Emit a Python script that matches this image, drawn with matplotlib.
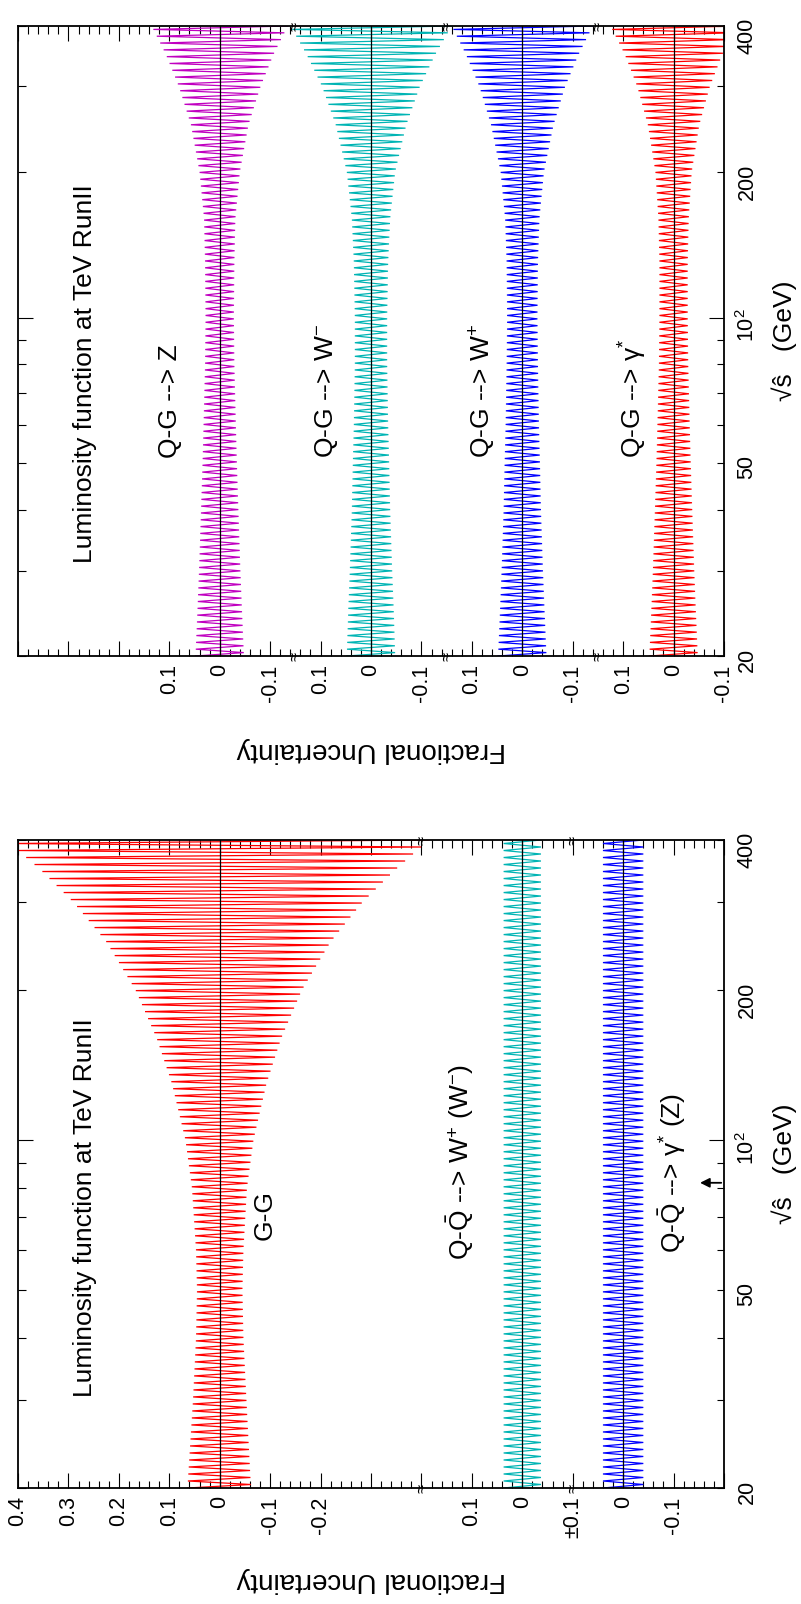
import numpy as np
import matplotlib
matplotlib.use('Agg')
import matplotlib.pyplot as plt
from matplotlib.ticker import FixedLocator, FixedFormatter, FuncFormatter

plt.rcParams['font.family'] = ['Liberation Sans', 'DejaVu Sans']
plt.rcParams['mathtext.fontset'] = 'custom'
plt.rcParams['mathtext.rm'] = 'Liberation Sans'
plt.rcParams['mathtext.it'] = 'Liberation Sans:italic'

e_read = [20, 25, 30, 40, 50, 60, 80, 100, 130, 160, 200, 250, 300, 350, 400]

# left plot (drawn at the bottom of the page): G-G, Q-Qbar channels
gg_up = [0.064, 0.058, 0.053, 0.047, 0.045, 0.047, 0.055, 0.068, 0.095, 0.125, 0.167, 0.225, 0.29, 0.357, 0.425]
gg_dn = [0.062, 0.057, 0.053, 0.047, 0.045, 0.047, 0.054, 0.067, 0.093, 0.122, 0.163, 0.22, 0.283, 0.35, 0.415]
qq_w = [0.037, 0.037, 0.037, 0.037, 0.037, 0.037, 0.037, 0.037, 0.037, 0.037, 0.037, 0.037, 0.037, 0.037, 0.037]
qq_g = [0.04, 0.04, 0.04, 0.04, 0.04, 0.04, 0.04, 0.04, 0.04, 0.04, 0.04, 0.04, 0.04, 0.04, 0.04]

# right plot (drawn at the top of the page): Q-G channels
qg_z = [0.048, 0.044, 0.041, 0.037, 0.034, 0.032, 0.029, 0.028, 0.029, 0.031, 0.040, 0.057, 0.081, 0.107, 0.135]
qg_wm = [0.048, 0.045, 0.042, 0.038, 0.036, 0.034, 0.032, 0.032, 0.034, 0.038, 0.048, 0.07, 0.097, 0.128, 0.16]
qg_wp = [0.048, 0.044, 0.041, 0.037, 0.035, 0.033, 0.031, 0.03, 0.031, 0.034, 0.043, 0.062, 0.085, 0.112, 0.14]
qg_g = [0.048, 0.044, 0.041, 0.037, 0.034, 0.032, 0.029, 0.028, 0.028, 0.03, 0.036, 0.051, 0.072, 0.097, 0.125]

arrow_e = 82  # arrow on the energy axis of the left plot

e_major = [100]
e_minor = [20, 30, 40, 50, 60, 70, 80, 90, 200, 300, 400]
e_minor_lab = {20: '20', 50: '50', 200: '200', 400: '400'}

# tick labels of the stacked bands (key = position on the shared axis)
top_lab = {1.0: '0.1', 0.9: '0', 0.8: '-0.1', 0.7: '0.1', 0.6: '0', 0.5: '-0.1',
           0.4: '0.1', 0.3: '0', 0.2: '-0.1', 0.1: '0.1', 0.0: '0', -0.1: '-0.1'}
bot_lab = {1.2: '0.4', 1.1: '0.3', 1.0: '0.2', 0.9: '0.1', 0.8: '0', 0.7: '-0.1', 0.6: '-0.2',
           0.3: '0.1', 0.2: '0', 0.1: '\u00b10.1', 0.0: '0', -0.1: '-0.1'}

n_pts = 186
e_grid = np.geomspace(20, 400, n_pts)

W, H = 801, 1604
fig = plt.figure(figsize=(W / 100, H / 100), dpi=100)


def px(x, y):
    return x / W, 1 - y / H


def band(ax, off, up, dn, col):
    lg = np.log(e_grid)
    u = np.interp(lg, np.log(e_read), up)
    d = np.interp(lg, np.log(e_read), dn)
    xs = np.where(np.arange(n_pts) % 2 == 0, off + u, off - d)
    ax.plot(xs, e_grid, color=col, lw=0.9, solid_joinstyle='miter')
    ax.axvline(off, color='k', lw=0.9)


def setup(ax, lo, hi, labs, breaks):
    ax.set_yscale('log')
    ax.set_ylim(20, 400)
    ax.set_xlim(hi, lo)
    maj = [round(v, 2) for v in np.arange(lo, hi + 0.001, 0.1)]
    ax.xaxis.set_major_locator(FixedLocator(maj))
    ax.xaxis.set_major_formatter(FixedFormatter([labs.get(round(v, 1), '') for v in maj]))
    ax.xaxis.set_minor_locator(FixedLocator(np.arange(lo, hi + 0.001, 0.02)))
    ax.yaxis.set_major_locator(FixedLocator(e_major))
    ax.yaxis.set_major_formatter(FixedFormatter(['10$^{2}$']))
    ax.yaxis.set_minor_locator(FixedLocator(e_minor))
    ax.yaxis.set_minor_formatter(FuncFormatter(lambda v, p: e_minor_lab.get(int(round(v)), '')))
    ax.tick_params(which='both', direction='in', top=True, bottom=True, left=True, right=True,
                   labelleft=False, labelright=True, width=0.8, labelsize=15.5)
    ax.tick_params(which='major', length=10.5)
    ax.tick_params(which='minor', length=5.4)
    ax.tick_params(axis='x', which='both', labelrotation=90, pad=6)
    ax.tick_params(axis='y', which='both', labelrotation=90, pad=9)
    for s in ax.spines.values():
        s.set_linewidth(1.3)
    tr = ax.get_xaxis_transform()
    for b in breaks:
        for yy in (0, 1):
            ax.text(b, yy, '\u2248', transform=tr, rotation=90, ha='center', va='center',
                    fontsize=12, clip_on=False)


# ---- top of page: Q-G plot
ax1 = fig.add_axes([18 / W, 1 - 656 / H, 706 / W, 630 / H])
setup(ax1, -0.1, 1.3, top_lab, [0.15, 0.45, 0.75])
band(ax1, 0.9, qg_z, qg_z, '#c000c0')
band(ax1, 0.6, qg_wm, qg_wm, '#00b4b4')
band(ax1, 0.3, qg_wp, qg_wp, '#0000ff')
band(ax1, 0.0, qg_g, qg_g, '#ff0000')

# ---- bottom of page: G-G / Q-Qbar plot
ax2 = fig.add_axes([18 / W, 1 - 1488 / H, 706 / W, 648 / H])
setup(ax2, -0.2, 1.2, bot_lab, [0.1, 0.4])
band(ax2, 0.8, gg_up, gg_dn, '#ff0000')
band(ax2, 0.2, qq_w, qq_w, '#00b4b4')
band(ax2, 0.0, qq_g, qq_g, '#0000ff')
ax2.annotate('', xy=(-0.147, arrow_e), xytext=(-0.2, arrow_e),
             arrowprops=dict(arrowstyle='-|>', color='k', lw=1.3, mutation_scale=14))

# texts (all rotated like the page)
fs = 19
fig.text(*px(85, 563), 'Luminosity function at TeV RunII', rotation=90, ha='center', va='bottom', fontsize=fs)
fig.text(*px(170, 458), 'Q-G --> Z', rotation=90, ha='center', va='bottom', fontsize=fs)
fig.text(*px(327, 458), 'Q-G --> W$^{-}$', rotation=90, ha='center', va='bottom', fontsize=fs)
fig.text(*px(483, 458), 'Q-G --> W$^{+}$', rotation=90, ha='center', va='bottom', fontsize=fs)
fig.text(*px(633, 458), 'Q-G --> \u03b3$^{*}$', rotation=90, ha='center', va='bottom', fontsize=fs)
fig.text(*px(784, 341), '\u221a\u015d   (GeV)', rotation=90, ha='center', va='center', fontsize=fs)
fig.text(*px(371, 750), 'Fractional Uncertainty', rotation=180, ha='center', va='center', fontsize=20)

fig.text(*px(85, 1397), 'Luminosity function at TeV RunII', rotation=90, ha='center', va='bottom', fontsize=fs)
fig.text(*px(265, 1215), 'G-G', rotation=90, ha='center', va='center', fontsize=fs)
fig.text(*px(460, 1260), 'Q-$\\bar{\\mathrm{Q}}$ --> W$^{+}$ (W$^{-}$)', rotation=90, ha='center', va='bottom', fontsize=fs)
fig.text(*px(672, 1253), 'Q-$\\bar{\\mathrm{Q}}$ --> \u03b3$^{*}$ (Z)', rotation=90, ha='center', va='bottom', fontsize=fs)
fig.text(*px(784, 1164), '\u221a\u015d   (GeV)', rotation=90, ha='center', va='center', fontsize=fs)
fig.text(*px(371, 1580), 'Fractional Uncertainty', rotation=180, ha='center', va='center', fontsize=20)

fig.savefig('out.png', dpi=100)
